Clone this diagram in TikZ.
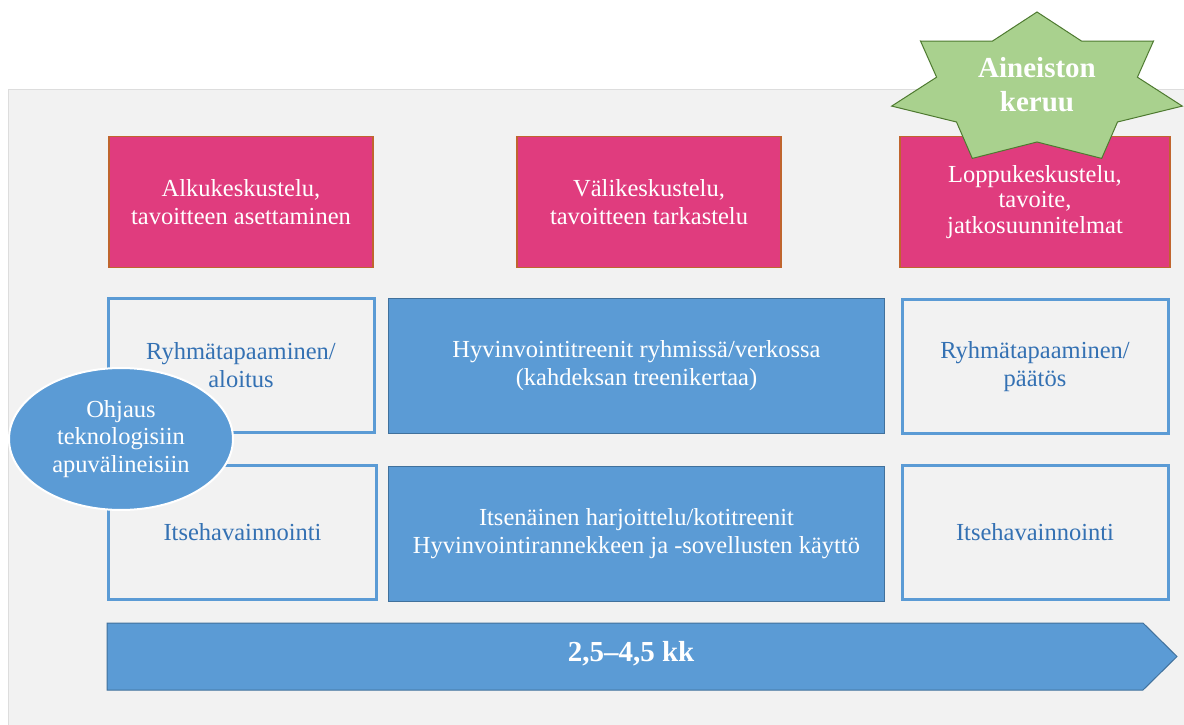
\documentclass[tikz,border=0pt]{standalone}
\usepackage{fontspec}
\setmainfont{Liberation Serif}[BoldFont={Liberation Serif Bold}]
\newfontfamily\diagfont{Liberation Serif}[BoldFont={Liberation Serif Bold}]
\usetikzlibrary{shapes.geometric}
\definecolor{bggray}{HTML}{F2F2F2}
\definecolor{bgedge}{HTML}{DDDDDD}
\definecolor{pinkfill}{HTML}{E03C7E}
\definecolor{pinkedge}{HTML}{C0652E}
\definecolor{bluefill}{HTML}{5B9BD5}
\definecolor{blueedge}{HTML}{41719C}
\definecolor{bluetext}{HTML}{3471B3}
\definecolor{starfill}{HTML}{A9D18E}
\definecolor{staredge}{HTML}{4E7A30}
\tikzset{
  txt/.style={font=\diagfont\fontsize{24.5}{28}\selectfont, align=center, inner sep=0pt},
  pinkbox/.style={txt, rectangle, fill=pinkfill, draw=pinkedge, line width=1.2pt, text=white, minimum width=264pt, minimum height=131pt},
  outlinebox/.style={txt, rectangle, fill=bggray, draw=bluefill, line width=3pt, text=bluetext, minimum width=266pt, minimum height=134pt},
  bluebox/.style={txt, rectangle, fill=bluefill, draw=blueedge, line width=1pt, text=white, minimum width=496pt, minimum height=135pt},
  guidestyle/.style={txt, ellipse, fill=bluefill, draw=white, line width=2pt, text=white, minimum width=224pt, minimum height=142pt},
  boldtxt/.style={font=\diagfont\fontsize{29}{34}\selectfont\bfseries, align=center, inner sep=0pt, text=white},
}
\begin{document}
\begin{tikzpicture}[x=1pt,y=-1pt]
\useasboundingbox (0,0) rectangle (1184,725);
\fill[white] (0,0) rectangle (1184,725);
\draw[fill=bggray, draw=bgedge, line width=1pt] (8,90) rectangle (1190,730);

% pink discussion boxes
\node[pinkbox] (p1) at (241,202) {Alkukeskustelu,\\tavoitteen asettaminen};
\node[pinkbox] (p2) at (649,202) {Välikeskustelu,\\tavoitteen tarkastelu};
\node[pinkbox, minimum width=270pt, font=\diagfont\fontsize{24.5}{25.5}\selectfont] (p3) at (1035,202) {Loppukeskustelu,\\tavoite,\\jatkosuunnitelmat};

% star
\draw[fill=starfill, draw=staredge, line width=1pt]
  (1037,12) -- (1081.7,41.2) -- (1153.5,41.0) -- (1137.4,77.2) -- (1182.3,106.1)
  -- (1117.5,122.0) -- (1101.7,158.4) -- (1037,142) -- (972.3,158.4) -- (956.5,122.0)
  -- (891.7,106.1) -- (936.6,77.2) -- (920.5,41.0) -- (992.3,41.2) -- cycle;
\node[boldtxt] (star) at (1037,85) {Aineiston\\keruu};

% row 1
\node[outlinebox] (r1a) at (241,365) {Ryhmätapaaminen/\\aloitus};
\node[bluebox] (r1b) at (636.5,365.5) {Hyvinvointitreenit ryhmissä/verkossa\\(kahdeksan treenikertaa)};
\node[outlinebox] (r1c) at (1035,366.5) {Ryhmätapaaminen/\\päätös};

% row 2
\node[outlinebox, minimum width=268pt] (r2a) at (242.5,532.5) {Itsehavainnointi};
\node[bluebox] (r2b) at (636.5,533.5) {Itsenäinen harjoittelu/kotitreenit\\Hyvinvointirannekkeen ja -sovellusten käyttö};
\node[outlinebox] (r2c) at (1035,532) {Itsehavainnointi};

% guidance ellipse
\node[guidestyle, font=\diagfont\fontsize{24.5}{27.5}\selectfont] (guide) at (121,439) {Ohjaus\\teknologisiin\\apuvälineisiin};

% duration arrow
\draw[fill=bluefill, draw=blueedge, line width=1pt]
  (107,623) -- (1143,623) -- (1177,656.5) -- (1143,690) -- (107,690) -- cycle;
\node[boldtxt] (dur) at (631,654) {2,5–4,5 kk};
\end{tikzpicture}
\end{document}
